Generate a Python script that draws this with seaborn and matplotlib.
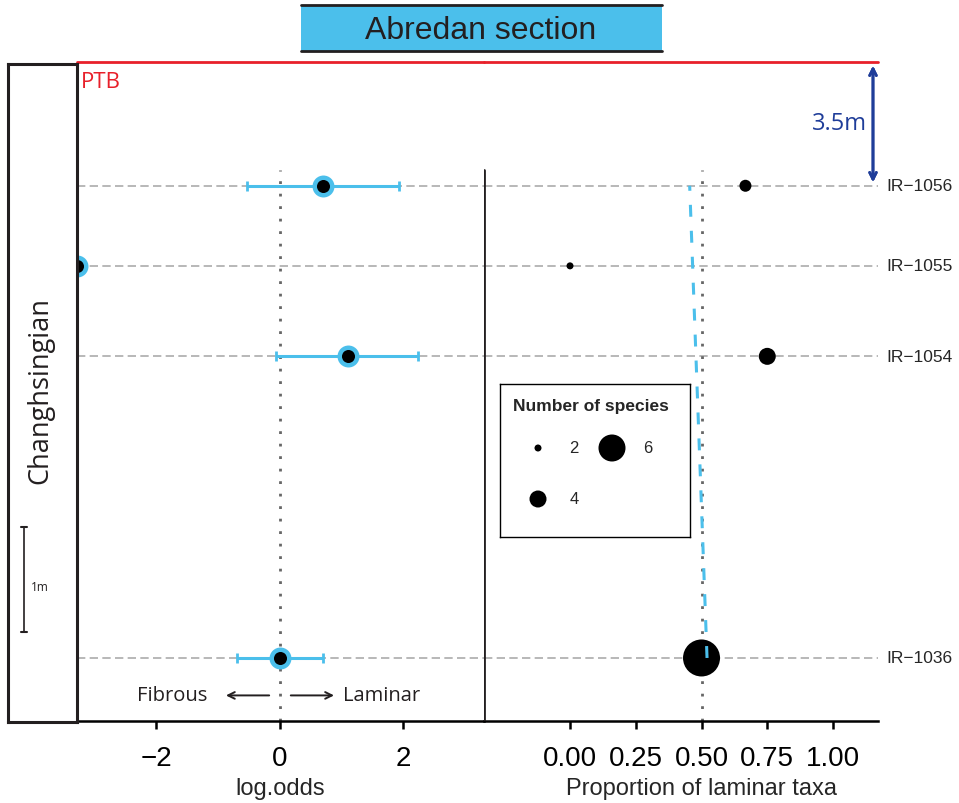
import numpy as np
import pandas as pd
import seaborn as sns
import matplotlib.pyplot as plt
from matplotlib.patches import Rectangle
from matplotlib.lines import Line2D
import matplotlib.transforms as mtransforms

# data
samples = ["IR\u22121056", "IR\u22121055", "IR\u22121054", "IR\u22121036"]
height_m = [4.54, 3.77, 2.90, 0.0]
log_odds = [0.69, -np.inf, 1.10, 0.0]
log_odds_low = [-0.53, np.nan, -0.06, -0.70]
log_odds_high = [1.93, np.nan, 2.24, 0.70]
prop_laminar = [0.667, 0.0, 0.75, 0.5]
n_species = [3, 2, 4, 8]
trend_height = [0.0, 4.54]
trend_prop = [0.521, 0.455]
ptb_height = 5.73
legend_sizes = [2, 4, 6]

CYAN = "#4BBFEB"
W, H = 959, 804

sns.set_theme(style="white")
plt.rcParams["font.family"] = ["Liberation Sans", "DejaVu Sans"]


def fx(px):
    return px / W


def fy(py):
    return 1 - py / H


def size_pt2(n):
    d = (5 * n - 3) * 0.72
    return d * d


df = pd.DataFrame({
    "sample": samples,
    "height": height_m,
    "log_odds": log_odds,
    "low": log_odds_low,
    "high": log_odds_high,
    "prop": prop_laminar,
    "n": n_species,
})

fig = plt.figure(figsize=(W / 100, H / 100), dpi=100)

bottom, top = 722, 63
ax_l = fig.add_axes([fx(77), fy(bottom), fx(484 - 77), (bottom - top) / H])
ax_r = fig.add_axes([fx(484), fy(bottom), fx(878 - 484), (bottom - top) / H])

ylim = (-0.606, ptb_height)
xlim_l = (-3.287, 3.304)
xlim_r = (-0.327, 1.171)
panel_top = 0.836

for ax in (ax_l, ax_r):
    ax.set_ylim(*ylim)
    ax.set_facecolor("none")
    for s in ["left", "right", "top"]:
        ax.spines[s].set_visible(False)
    ax.spines["bottom"].set_linewidth(1.8)
    ax.spines["bottom"].set_color("black")
    ax.set_yticks([])
    ax.tick_params(axis="x", direction="out", length=6, width=1.8,
                   labelsize=20, pad=11, bottom=True, colors="black")
    for h in df["height"]:
        ax.axhline(h, color="#ABABAB", lw=1.2, ls=(0, (5, 2.6)), zorder=1)
    ax.axhline(ptb_height, color="#E8202A", lw=2, clip_on=False, zorder=5)
    ax.set_ylabel("")

# left panel: log odds
ax_l.set_xlim(*xlim_l)
ax_l.set_xticks([-2, 0, 2])
ax_l.axvline(0, ymax=panel_top, color="#666666", lw=2, ls=(0, (1, 3.5)), zorder=2)

x_plot = np.where(np.isinf(df["log_odds"]), xlim_l[0], df["log_odds"])
ok = df["low"].notna()
ax_l.errorbar(x_plot[ok], df["height"][ok],
              xerr=[x_plot[ok] - df["low"][ok], df["high"][ok] - x_plot[ok]],
              fmt="none", ecolor=CYAN, elinewidth=2.2, capsize=3.5, capthick=2, zorder=3)
sns.scatterplot(x=x_plot, y=df["height"], ax=ax_l, color=CYAN, s=250,
                linewidth=0, zorder=4, legend=False)
sns.scatterplot(x=x_plot, y=df["height"], ax=ax_l, color="black", s=88,
                linewidth=0, zorder=5, legend=False)
ax_l.set_xlabel("log.odds", fontsize=17)

txt_font = ["Open Sans", "DejaVu Sans"]
ax_l.text(-1.17, -0.36, "Fibrous", ha="right", va="center", fontsize=14.5,
          family=txt_font, color="#231F20")
ax_l.text(1.02, -0.36, "Laminar", ha="left", va="center", fontsize=14.5,
          family=txt_font, color="#231F20")
ax_l.annotate("", xy=(-0.92, -0.36), xytext=(-0.13, -0.36),
              arrowprops=dict(arrowstyle="->", color="#231F20", lw=1.4))
ax_l.annotate("", xy=(0.92, -0.36), xytext=(0.13, -0.36),
              arrowprops=dict(arrowstyle="->", color="#231F20", lw=1.4))

# right panel: proportion laminar
ax_r.set_xlim(*xlim_r)
ax_r.set_xticks([0, 0.25, 0.5, 0.75, 1.0])
ax_r.set_xticklabels(["0.00", "0.25", "0.50", "0.75", "1.00"])
ax_r.axvline(xlim_r[0], ymin=0, ymax=0.836, color="#231F20", lw=2, zorder=3)
ax_r.axvline(0.5, ymax=panel_top, color="#666666", lw=2, ls=(0, (1, 3.5)), zorder=2)
sns.scatterplot(data=df, x="prop", y="height", size="n",
                sizes={n: size_pt2(n) for n in df["n"]},
                color="black", linewidth=0, ax=ax_r, legend=False, zorder=4)
sns.lineplot(x=trend_prop, y=trend_height, ax=ax_r, sort=False, color=CYAN,
             lw=2.2, zorder=5)
ax_r.lines[-1].set_linestyle((0, (3.9, 4.6)))
ax_r.set_xlabel("Proportion of laminar taxa", fontsize=17)
ax_r.xaxis.set_label_coords((702 - 484) / 394, -0.085)
ax_l.xaxis.set_label_coords(0.5, -0.085)

trans = mtransforms.blended_transform_factory(ax_r.transAxes, ax_r.transData)
for name, h in zip(df["sample"], df["height"]):
    ax_r.text(1.02, h, name, transform=trans, ha="left", va="center", fontsize=12.5)

# size key, laid out in pixel units inside its own box
lx0, ly0, lx1, ly1 = 500, 385, 690, 538
ax_k = fig.add_axes([fx(lx0), fy(ly1), fx(lx1 - lx0), (ly1 - ly0) / H])
ax_k.set_xlim(lx0, lx1)
ax_k.set_ylim(ly1, ly0)
ax_k.set_xticks([])
ax_k.set_yticks([])
ax_k.set_facecolor("white")
for s in ax_k.spines.values():
    s.set_linewidth(1)
    s.set_color("black")
key_x = [538, 538, 612]
key_y = [449, 500, 449]
sns.scatterplot(x=key_x, y=key_y, size=legend_sizes,
                sizes={n: size_pt2(n) for n in legend_sizes},
                color="black", linewidth=0, ax=ax_k, legend=False)
for n, kx, ky in zip(legend_sizes, key_x, key_y):
    ax_k.text(kx + 36, ky, str(n), ha="center", va="center", fontsize=12)
ax_k.text(591, 406, "Number of species", ha="center", va="center",
          fontsize=12.5, fontweight="bold")
ax_k.set_xlabel("")
ax_k.set_ylabel("")

# stratigraphic column
ax_c = fig.add_axes([fx(8), fy(723), fx(77 - 8), (723 - 65) / H])
ax_c.set_facecolor("white")
ax_c.set_xticks([])
ax_c.set_yticks([])
for s in ax_c.spines.values():
    s.set_linewidth(2.2)
    s.set_color("#231F20")
ax_c.text(0.47, 0.505, "Changhsingian", rotation=90, ha="center", va="center",
          fontsize=19.5, family=txt_font, color="#231F20", transform=ax_c.transAxes)

# scale bar and annotations in figure pixels
fig.add_artist(Line2D([fx(24), fx(24)], [fy(528), fy(633)], color="#231F20", lw=1.2))
for yy in (528, 633):
    fig.add_artist(Line2D([fx(21), fx(27)], [fy(yy), fy(yy)], color="#231F20", lw=1.5))
fig.text(fx(31), fy(588), "1m", fontsize=8.5, va="center", ha="left",
         family=txt_font, color="#231F20")

fig.text(fx(81), fy(82), "PTB", color="#E8202A", fontsize=16, va="center", ha="left",
         family=txt_font)
fig.add_artist(plt.annotate("", xy=(fx(873), fy(64)), xytext=(fx(873), fy(186)),
                            xycoords="figure fraction", textcoords="figure fraction",
                            arrowprops=dict(arrowstyle="<->", color="#1F3D99", lw=2)))
fig.text(fx(839), fy(124), "3.5m", color="#1F3D99", fontsize=17, ha="center",
         va="center", family=txt_font)

fig.add_artist(Rectangle((fx(301), fy(52)), fx(662 - 301), (52 - 6) / H,
                         transform=fig.transFigure, facecolor=CYAN, edgecolor="none"))
for yy in (6, 52):
    fig.add_artist(Line2D([fx(301), fx(662)], [fy(yy), fy(yy)], color="#231F20", lw=2))
fig.text(fx(481), fy(31), "Abredan section", fontsize=23, ha="center", va="center",
         color="#231F20")

fig.savefig("out.png", dpi=100)
